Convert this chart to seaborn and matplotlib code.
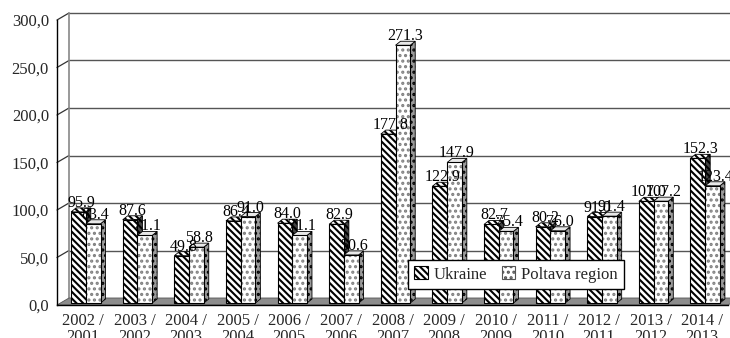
import numpy as np
import pandas as pd
import seaborn as sns
import matplotlib.pyplot as plt
import matplotlib.transforms as mtransforms
from matplotlib.patches import Polygon, Patch, Rectangle

# Growth indices, previous year = 100
periods = ["2002 /\n2001", "2003 /\n2002", "2004 /\n2003", "2005 /\n2004",
           "2006 /\n2005", "2007 /\n2006", "2008 /\n2007", "2009 /\n2008",
           "2010 /\n2009", "2011 /\n2010", "2012 /\n2011", "2013 /\n2012",
           "2014 /\n2013"]
ukraine = [95.9, 87.6, 49.8, 86.4, 84.0, 82.9, 177.8, 122.9, 82.7, 80.2, 91.0, 107.0, 152.3]
poltava = [83.4, 71.1, 58.8, 91.0, 71.1, 50.6, 271.3, 147.9, 75.4, 76.0, 91.4, 107.2, 123.4]
series = ["Ukraine", "Poltava region"]
y_ticks = [0, 50, 100, 150, 200, 250, 300]
y_tick_labels = ["0,0", "50,0", "100,0", "150,0", "200,0", "250,0", "300,0"]

sns.set_style("white")
plt.rcParams["font.family"] = ["Liberation Serif", "DejaVu Serif"]
plt.rcParams["hatch.linewidth"] = 1.5

DPI = 100
fig = plt.figure(figsize=(7.3, 3.38), dpi=DPI)
ax = fig.add_axes([57 / 730, 33 / 338, 671 / 730, 285 / 338])

df = pd.DataFrame({
    "period": periods * 2,
    "value": ukraine + poltava,
    "region": [series[0]] * len(periods) + [series[1]] * len(periods),
})
sns.barplot(data=df, x="period", y="value", hue="region", order=periods,
            hue_order=series, palette=["white", "white"], width=0.57,
            edgecolor="black", linewidth=0.8, legend=False, ax=ax, zorder=4)
ax.set_xlim(-0.5, len(periods) - 0.5)
ax.set_ylim(0, 300)

# the columns drawn by seaborn, left to right
bars = [p for p in ax.patches if isinstance(p, Rectangle) and p.get_height() > 0]
bars = sorted(bars, key=lambda p: p.get_x())


def px_offset(dx, dy):
    return mtransforms.ScaledTranslation(dx / DPI, dy / DPI, fig.dpi_scale_trans)


def shifted(x, y, dx, dy):
    p = ax.transData.transform((x, y))
    return ax.transData.inverted().transform(p + np.array([dx, dy]))


WALL_DX, WALL_DY = 12, 7     # depth of the back wall, pixels
BAR_DX, BAR_DY = 3, 2        # bars sit slightly behind the front plane
DEP_DX, DEP_DY = 5, 4        # depth of each column

x_lo, x_hi = -0.5, len(periods) - 0.5

# floor
floor = Polygon([(x_lo, 0), (x_hi, 0), shifted(x_hi, 0, WALL_DX, WALL_DY),
                 shifted(x_lo, 0, WALL_DX, WALL_DY)], closed=True,
                facecolor="#8c8c8c", edgecolor="#555555", lw=0.6,
                zorder=2, clip_on=False)
ax.add_patch(floor)

# back-wall gridlines and their connectors to the value axis
for v in y_ticks[1:]:
    ax.plot([x_lo, x_hi + 1], [v, v], transform=ax.transData + px_offset(WALL_DX, WALL_DY),
            color="#555555", lw=1.0, zorder=1, clip_on=False)
    p2 = shifted(x_lo, v, WALL_DX, WALL_DY)
    ax.plot([x_lo, p2[0]], [v, p2[1]], color="#333333", lw=0.9, zorder=1, clip_on=False)
top_left = shifted(x_lo, 300, WALL_DX, WALL_DY)
bot_left = shifted(x_lo, 0, WALL_DX, WALL_DY)
ax.plot([top_left[0], bot_left[0]], [top_left[1], bot_left[1]],
        color="#888888", lw=1.2, zorder=1, clip_on=False)

# columns: front faces, then right and top faces
stripe = "\\" * 5
dots = "..."
bar_shift = px_offset(BAR_DX, BAR_DY)
for i, b in enumerate(bars):
    is_ukr = (i % 2 == 0)
    b.set_transform(ax.transData + bar_shift)
    x0, w, h = b.get_x(), b.get_width(), b.get_height()
    right = [shifted(x0 + w, 0, BAR_DX, BAR_DY),
             shifted(x0 + w, 0, BAR_DX + DEP_DX, BAR_DY + DEP_DY),
             shifted(x0 + w, h, BAR_DX + DEP_DX, BAR_DY + DEP_DY),
             shifted(x0 + w, h, BAR_DX, BAR_DY)]
    top = [shifted(x0, h, BAR_DX, BAR_DY),
           shifted(x0 + w, h, BAR_DX, BAR_DY),
           shifted(x0 + w, h, BAR_DX + DEP_DX, BAR_DY + DEP_DY),
           shifted(x0, h, BAR_DX + DEP_DX, BAR_DY + DEP_DY)]
    z = 4 + i * 0.01
    if is_ukr:
        b.set_hatch(stripe)
        b.set_edgecolor("black")
        ax.add_patch(Polygon(right, closed=True, facecolor="#444444", edgecolor="black",
                             hatch=stripe, lw=0.6, zorder=z - 0.005))
        ax.add_patch(Polygon(top, closed=True, facecolor="white", edgecolor="black",
                             hatch=stripe, lw=0.6, zorder=z - 0.005))
    else:
        b.set_hatch(dots)
        b.set_edgecolor("#808080")
        b.set_linewidth(0)
        ax.add_patch(Rectangle((x0, 0), w, h, facecolor="none", edgecolor="black",
                               lw=0.8, transform=ax.transData + bar_shift, zorder=z + 0.002))
        ax.add_patch(Polygon(right, closed=True, facecolor="#9a9a9a", edgecolor="black",
                             hatch=dots, lw=0.6, zorder=z - 0.005))
        ax.add_patch(Polygon(top, closed=True, facecolor="#e8e8e8", edgecolor="black",
                             lw=0.6, zorder=z - 0.005))
    b.set_zorder(z)

# value labels
for i, b in enumerate(bars):
    h = b.get_height()
    xc = b.get_x() + b.get_width() / 2
    ax.text(xc, h, f"{h:.1f}", ha="center", va="bottom", fontsize=11.5,
            color="black", zorder=10, clip_on=False,
            transform=ax.transData + px_offset(BAR_DX + DEP_DX / 2, BAR_DY + DEP_DY - 3))

# axes
sns.despine(ax=ax, top=True, right=True)
ax.spines["left"].set_color("black")
ax.spines["bottom"].set_color("black")
ax.spines["left"].set_linewidth(1.0)
ax.spines["bottom"].set_linewidth(1.0)
ax.spines["bottom"].set_zorder(6)
ax.set_yticks(y_ticks)
ax.set_yticklabels(y_tick_labels, fontsize=12)
ax.tick_params(axis="y", direction="out", length=4.3, width=1.0, color="black", pad=1.5)
ax.set_xticks(range(len(periods)))
ax.set_xticklabels(periods, fontsize=12, linespacing=0.95)
ax.tick_params(axis="x", which="major", length=0, pad=6)
ax.set_xticks(np.arange(x_lo, x_hi + 0.01, 1.0), minor=True)
ax.tick_params(axis="x", which="minor", direction="out", length=4.3, width=1.0, color="black")
ax.set_xlabel("")
ax.set_ylabel("")
ax.grid(False)
ax.patch.set_alpha(0)

handles = [Patch(facecolor="white", edgecolor="black", hatch=stripe, lw=0.8),
           Patch(facecolor="white", edgecolor="#555555", hatch=dots, lw=0.8)]
fig.legend(handles, series, loc="center", bbox_to_anchor=(516 / 730, 1 - 274.5 / 338),
           ncol=2, frameon=True, fancybox=False, edgecolor="black", framealpha=1,
           handlelength=0.8, handleheight=0.8, fontsize=12, borderpad=0.4,
           columnspacing=0.9, handletextpad=0.35)

fig.savefig("out.png", dpi=DPI)
